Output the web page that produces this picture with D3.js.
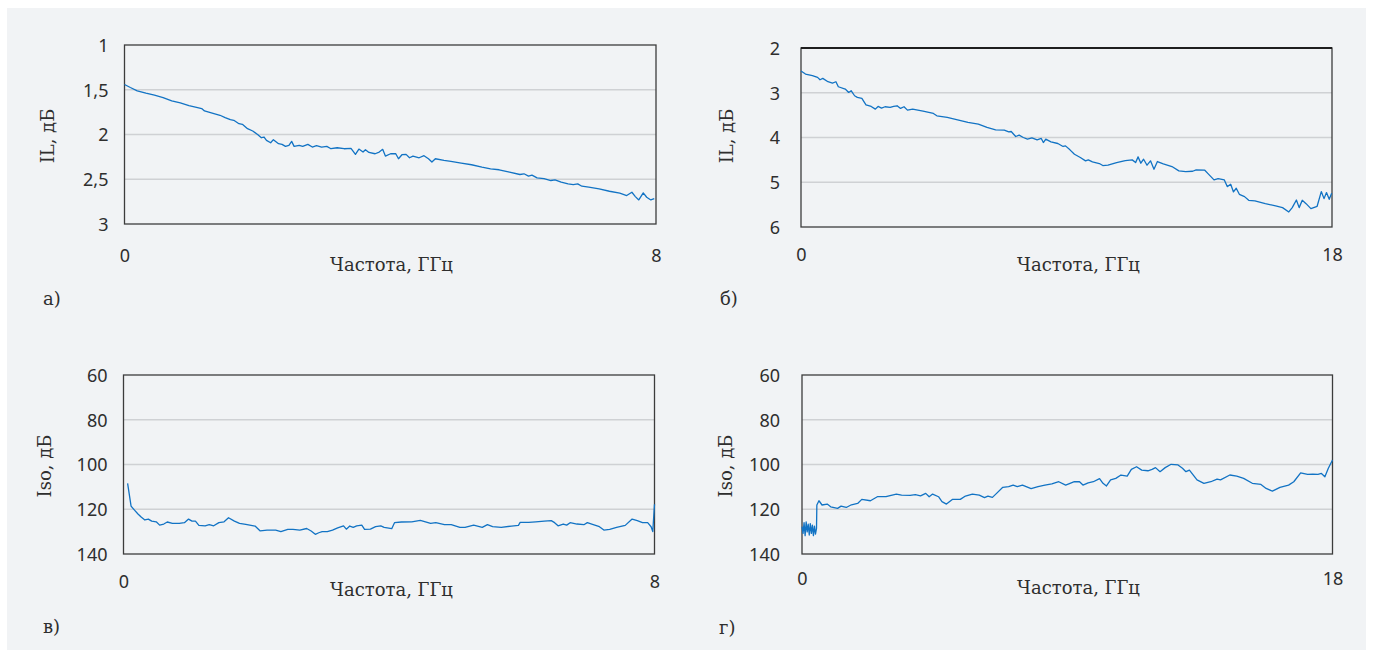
<!DOCTYPE html>
<html><head><meta charset="utf-8">
<script src="https://cdn.jsdelivr.net/npm/d3@7/dist/d3.min.js"></script>
<style>
html,body{margin:0;padding:0;background:#fff;}
svg{display:block;}
</style></head>
<body>
<svg id="chart" width="1373" height="660"></svg>
<script>
// ---------- DATA ----------
// а) IL, dB vs frequency 0..8 GHz
const aFreq = [0.000,0.088,0.192,0.322,0.451,0.581,0.711,0.840,0.970,1.100,1.162,1.204,1.333,1.437,1.515,1.593,1.645,1.723,1.774,1.852,1.930,2.008,2.060,2.101,2.137,2.200,2.241,2.319,2.371,2.423,2.475,2.516,2.553,2.630,2.682,2.760,2.827,2.890,2.967,3.045,3.108,3.201,3.305,3.409,3.476,3.528,3.590,3.627,3.679,3.772,3.834,3.886,3.927,4.005,4.083,4.124,4.176,4.238,4.290,4.342,4.435,4.508,4.575,4.627,4.679,4.809,4.913,5.068,5.224,5.380,5.510,5.639,5.795,5.951,6.013,6.081,6.133,6.210,6.314,6.418,6.480,6.573,6.677,6.755,6.822,6.884,6.988,7.144,7.299,7.455,7.559,7.637,7.689,7.741,7.808,7.860,7.922,7.974];
const aIL = [1.441,1.475,1.512,1.538,1.561,1.587,1.624,1.647,1.677,1.699,1.710,1.737,1.763,1.785,1.811,1.834,1.841,1.879,1.886,1.935,1.961,2.002,2.036,2.028,2.065,2.092,2.058,2.103,2.110,2.133,2.122,2.077,2.133,2.122,2.133,2.110,2.140,2.125,2.140,2.133,2.159,2.148,2.159,2.155,2.222,2.163,2.196,2.170,2.200,2.215,2.196,2.166,2.241,2.215,2.215,2.271,2.226,2.222,2.260,2.241,2.260,2.237,2.271,2.308,2.271,2.290,2.301,2.320,2.338,2.364,2.383,2.394,2.421,2.447,2.439,2.465,2.454,2.484,2.492,2.514,2.507,2.533,2.551,2.559,2.551,2.578,2.589,2.607,2.634,2.656,2.682,2.645,2.694,2.731,2.652,2.701,2.731,2.716];

// б) IL, dB vs frequency 0..18 GHz
const bFreq = [0.000,0.152,0.387,0.562,0.645,0.738,0.914,1.066,1.184,1.266,1.500,1.617,1.699,1.816,1.910,2.063,2.203,2.379,2.520,2.613,2.730,2.848,3.023,3.141,3.258,3.375,3.492,3.609,3.785,4.137,4.488,4.605,4.957,5.309,5.660,6.012,6.305,6.598,6.891,7.043,7.125,7.277,7.395,7.535,7.676,7.828,8.004,8.145,8.215,8.297,8.473,8.707,8.883,8.965,9.117,9.270,9.469,9.645,9.738,9.879,10.113,10.230,10.406,10.699,10.992,11.227,11.344,11.426,11.520,11.613,11.730,11.848,11.965,12.082,12.281,12.574,12.809,13.043,13.277,13.395,13.688,13.805,14.000,14.141,14.350,14.449,14.566,14.660,14.754,14.859,15.035,15.176,15.387,15.738,16.090,16.324,16.535,16.652,16.793,16.887,16.992,17.121,17.285,17.496,17.637,17.730,17.813,17.906,17.988];
const bIL = [2.515,2.582,2.619,2.657,2.709,2.679,2.754,2.784,2.754,2.866,2.918,2.993,2.955,3.067,3.104,3.127,3.269,3.306,3.366,3.306,3.343,3.313,3.328,3.306,3.291,3.351,3.313,3.388,3.366,3.410,3.463,3.515,3.552,3.604,3.664,3.701,3.776,3.828,3.836,3.873,3.866,3.978,3.948,4.000,4.037,4.007,4.052,4.022,4.112,4.037,4.097,4.134,4.201,4.187,4.276,4.373,4.448,4.522,4.500,4.545,4.582,4.627,4.619,4.560,4.515,4.500,4.560,4.433,4.575,4.485,4.619,4.522,4.709,4.537,4.590,4.649,4.746,4.761,4.754,4.724,4.731,4.813,4.948,4.918,4.948,5.097,5.045,5.216,5.134,5.269,5.321,5.403,5.418,5.478,5.530,5.567,5.664,5.567,5.396,5.567,5.403,5.478,5.590,5.537,5.209,5.366,5.231,5.381,5.246];

// в) Iso, dB vs frequency 0..8 GHz
const cFreq = [0.062,0.114,0.166,0.218,0.270,0.322,0.374,0.425,0.493,0.545,0.607,0.659,0.737,0.840,0.918,0.980,1.032,1.084,1.136,1.230,1.292,1.359,1.437,1.515,1.582,1.671,1.748,1.842,1.982,2.060,2.163,2.293,2.371,2.475,2.553,2.656,2.760,2.827,2.890,2.942,2.993,3.071,3.149,3.227,3.315,3.357,3.409,3.461,3.513,3.590,3.632,3.720,3.798,3.876,3.927,4.041,4.083,4.187,4.342,4.472,4.627,4.705,4.835,4.938,5.068,5.146,5.276,5.405,5.483,5.561,5.691,5.846,5.950,5.976,6.106,6.210,6.340,6.444,6.495,6.547,6.625,6.677,6.729,6.832,6.936,6.988,7.066,7.170,7.237,7.325,7.429,7.559,7.663,7.741,7.819,7.897,7.949,7.974,8.000];
const cIso = [108.4,118.6,120.4,122.1,123.6,124.8,124.4,125.3,125.6,127.1,126.6,125.7,126.3,126.3,126.0,124.4,125.3,125.3,127.2,127.4,126.9,127.4,126.0,125.6,123.8,125.3,126.3,126.8,127.5,129.7,129.3,129.3,130.0,129.0,129.0,129.3,128.6,129.7,131.2,130.5,130.0,130.0,129.3,128.3,127.4,128.9,127.5,128.1,127.4,127.1,129.0,128.9,127.8,127.4,128.1,128.7,126.0,125.7,125.6,125.0,126.3,126.0,126.9,126.9,128.1,128.1,127.1,128.1,126.9,127.8,128.1,127.5,127.2,125.9,125.9,125.6,125.3,125.1,126.0,127.4,126.6,127.1,126.0,126.6,126.9,126.0,126.8,127.8,129.3,129.0,128.1,127.2,124.4,125.1,126.0,126.0,127.8,130.0,117.8];

// г) Iso, dB vs frequency 0..18 GHz
const dFreq = [0.000,0.035,0.070,0.106,0.141,0.176,0.211,0.246,0.281,0.317,0.352,0.387,0.422,0.457,0.492,0.504,0.575,0.680,0.856,0.973,1.208,1.325,1.501,1.677,1.888,2.029,2.322,2.556,2.849,3.201,3.377,3.670,3.846,4.022,4.198,4.315,4.432,4.632,4.749,4.901,5.100,5.370,5.546,5.781,6.015,6.191,6.309,6.461,6.602,6.813,7.012,7.165,7.305,7.481,7.774,8.009,8.243,8.478,8.712,8.947,9.240,9.416,9.533,9.709,9.885,10.096,10.213,10.331,10.471,10.647,10.823,11.034,11.175,11.351,11.527,11.738,11.878,11.995,12.148,12.324,12.523,12.758,12.910,13.027,13.145,13.403,13.637,13.872,14.083,14.200,14.517,14.751,14.985,15.279,15.572,15.748,15.959,16.217,16.510,16.686,16.920,17.155,17.331,17.507,17.624,17.742,17.859,18.000];
const dIso = [127.8,130.8,126.0,131.8,125.6,130.1,126.7,131.5,126.4,130.8,127.1,131.8,127.5,131.1,128.6,118.1,116.2,118.1,117.7,118.9,119.6,118.6,119.2,118.0,117.4,115.6,116.2,114.4,114.4,113.2,113.7,113.8,113.5,114.0,112.9,114.4,113.2,114.4,116.6,117.7,115.6,115.6,114.1,113.2,113.7,114.8,114.1,114.7,112.9,110.2,109.9,109.2,109.9,109.2,110.8,109.9,109.2,108.7,107.7,109.2,107.7,107.7,109.2,108.2,107.7,106.3,108.4,109.6,106.9,106.2,104.7,105.2,102.2,101.0,102.5,102.8,102.2,101.4,103.2,101.4,99.9,100.2,101.7,103.2,102.5,106.9,108.4,107.7,106.5,106.9,104.7,105.2,106.2,108.4,108.9,110.7,111.9,110.2,109.2,107.7,103.7,104.4,104.3,104.4,104.0,105.5,101.7,98.0];

// tick values / labels
const ilTicksA = [1, 1.5, 2, 2.5, 3];
const ilTicksB = [2, 3, 4, 5, 6];
const isoTicks = [60, 80, 100, 120, 140];
const xTicks8 = [0, 8];
const xTicks18 = [0, 18];
const xTitle = "Частота, ГГц";
const ilTitle = "IL, дБ";
const isoTitle = "Iso, дБ";
const panelLetters = ["а)", "б)", "в)", "г)"];

// ---------- LAYOUT ----------
const panels = [
  {freq:aFreq, val:aIL, yDom:[1,3], yTicks:ilTicksA, xMax:8, xTicks:xTicks8, ytitle:ilTitle,
   L:124.5, R:656, T:45, B:224, yPad:16, xOff:32, ytX:48, ytY:136, xtX:391.5, xtY:265, lbX:43, lbY:299},
  {freq:bFreq, val:bIL, yDom:[2,6], yTicks:ilTicksB, xMax:18, xTicks:xTicks18, ytitle:ilTitle,
   L:801, R:1332, T:48, B:227, yPad:21, xOff:28, ytX:727, ytY:136, xtX:1078.5, xtY:265, lbX:720, lbY:299, thickTop:true},
  {freq:cFreq, val:cIso, yDom:[60,140], yTicks:isoTicks, xMax:8, xTicks:xTicks8, ytitle:isoTitle,
   L:123.5, R:654.5, T:375, B:554, yPad:16, xOff:27.5, ytX:45, ytY:466, xtX:391.5, xtY:590, lbX:43, lbY:627},
  {freq:dFreq, val:dIso, yDom:[60,140], yTicks:isoTicks, xMax:18, xTicks:xTicks18, ytitle:isoTitle,
   L:802, R:1332.5, T:375, B:554, yPad:22, xOff:24.5, ytX:726, ytY:466, xtX:1078.5, xtY:588, lbX:719, lbY:628}
];

const svg = d3.select("#chart");
const TEXT = "#2e2e2e";
const SERIF = "'DejaVu Serif', 'Liberation Serif', serif";
const SANS = "'Noto Sans', 'Open Sans', sans-serif";

svg.append("rect").attr("x",7).attr("y",8).attr("width",1359).attr("height",642).attr("fill","#f1f3f5");

// determine serif size so that x-title width matches ~123px
const probe = svg.append("text").attr("font-family",SERIF).attr("font-size",20).text(xTitle);
const pw = probe.node().getComputedTextLength();
probe.remove();
const serifSize = Math.max(12, Math.min(20, 20*123/pw));

panels.forEach((p,i)=>{
  const x = d3.scaleLinear().domain([0,p.xMax]).range([p.L,p.R]);
  const y = d3.scaleLinear().domain(p.yDom).range([p.T,p.B]);
  const g = svg.append("g");

  // gridlines
  g.selectAll("line.grid").data(p.yTicks.slice(1,-1)).join("line")
    .attr("x1",p.L).attr("x2",p.R).attr("y1",d=>y(d)).attr("y2",d=>y(d))
    .attr("stroke","#cfd1d4").attr("stroke-width",1.4);

  // frame
  g.append("rect").attr("x",p.L).attr("y",p.T).attr("width",p.R-p.L).attr("height",p.B-p.T)
    .attr("fill","none").attr("stroke","#3c3c3c").attr("stroke-width",1.3);
  if (p.thickTop) {
    g.append("line").attr("x1",p.L).attr("x2",p.R).attr("y1",p.T).attr("y2",p.T)
      .attr("stroke","#1e1e1e").attr("stroke-width",2);
  }

  // y axis
  const yAx = g.append("g").attr("transform",`translate(${p.L},0)`)
    .call(d3.axisLeft(y).tickValues(p.yTicks).tickSize(0).tickPadding(p.yPad)
      .tickFormat(d=>String(d).replace(".",",")));
  yAx.select(".domain").remove();
  yAx.selectAll("text").attr("font-family",SANS).attr("font-size",18).attr("fill",TEXT).attr("dy","0.36em");

  // x axis
  const xAx = g.append("g").attr("transform",`translate(0,${p.B})`)
    .call(d3.axisBottom(x).tickValues(p.xTicks).tickSize(0).tickPadding(0));
  xAx.select(".domain").remove();
  xAx.selectAll("text").attr("font-family",SANS).attr("font-size",18).attr("fill",TEXT)
    .attr("y",p.xOff).attr("dy","0.36em");

  // line
  const pts = p.freq.map((f,k)=>[f,p.val[k]]);
  g.append("path").datum(pts)
    .attr("d", d3.line().x(d=>x(d[0])).y(d=>y(d[1])))
    .attr("fill","none").attr("stroke","#1273c4").attr("stroke-width",1.3).attr("stroke-linejoin","round");

  // titles
  g.append("text").attr("transform",`translate(${p.ytX},${p.ytY}) rotate(-90)`)
    .attr("text-anchor","middle").attr("dy","0.35em")
    .attr("font-family",SERIF).attr("font-size",serifSize).attr("fill",TEXT).text(p.ytitle);
  g.append("text").attr("x",p.xtX).attr("y",p.xtY).attr("text-anchor","middle").attr("dy","0.35em")
    .attr("font-family",SERIF).attr("font-size",serifSize).attr("fill",TEXT).text(xTitle);
  g.append("text").attr("x",p.lbX).attr("y",p.lbY).attr("dy","0.35em")
    .attr("font-family",SERIF).attr("font-size",serifSize).attr("fill",TEXT).text(panelLetters[i]);
});
</script>
</body></html>
